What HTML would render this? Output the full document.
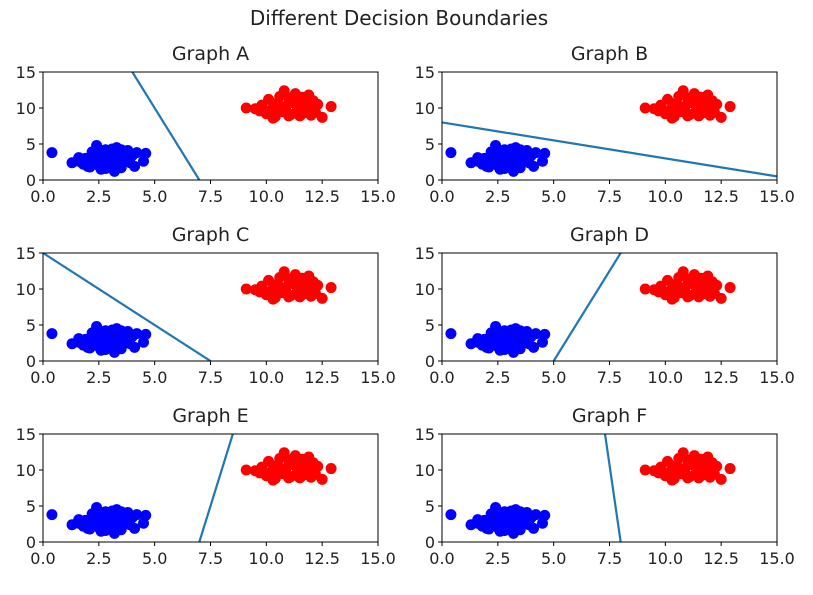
<!DOCTYPE html>
<html><head><meta charset="utf-8"><style>
body{margin:0;background:#fff;font-family:"Liberation Sans","DejaVu Sans",sans-serif;}
svg text{font-family:"DejaVu Sans","Liberation Sans",sans-serif;fill:#222;}
</style></head><body>
<svg id="chart" width="813" height="590" viewBox="0 0 813 590" xmlns="http://www.w3.org/2000/svg">
<text x="399" y="25" text-anchor="middle" font-size="20">Different Decision Boundaries</text>
</svg>
<script>
const panelTitles = ["Graph A","Graph B","Graph C","Graph D","Graph E","Graph F"];
const boundaries = [[[4,15],[7,0]],[[0,8],[15,0.5]],[[0,15],[7.5,0]],[[5,0],[8,15]],[[7,0],[8.5,15]],[[7.3,15],[8,0]]];
const xTicks = [0,2.5,5,7.5,10,12.5,15];
const xTickLabels = ["0.0","2.5","5.0","7.5","10.0","12.5","15.0"];
const yTicks = [0,5,10,15];
const blueX = [0.4,1.3,1.6,1.8,1.9,2,2.1,2.2,2.3,2.4,2.5,2.6,2.7,2.8,2.9,3,3.1,3.2,3.2,3.3,3.4,3.5,3.5,3.6,3.7,3.8,3.9,4,4.1,4.2,4.5,4.6,2.2,2.8,3.3,1.6,2.0,2.6,3.0,3.6];
const blueY = [3.8,2.4,2.6,2.2,3,2.7,1.8,3.3,2.5,4.8,2,3.5,2.9,1.6,3.8,2.4,4.3,1.2,3.1,2.2,3.6,1.7,4.2,2.8,3.2,4.1,2.4,3.4,1.9,3.8,2.6,3.7,3.9,4.2,4.5,3.1,1.9,1.5,3.3,3.9];
const redX = [9.1,9.5,9.8,10,10.1,10.3,10.4,10.5,10.7,10.8,10.9,11,11.1,11.2,11.3,11.4,11.5,11.6,11.7,11.8,11.9,12,12.1,12.2,12.5,12.9,10.2,10.6,11.3,11.8,12.3,9.7,10.3,11.0,11.6,12.0];
const redY = [10,9.9,10.4,9.2,11.2,10,8.8,10.7,9.5,12.4,10.3,11.4,9.1,10.8,12,9.8,8.9,11.5,10.3,9.4,11.8,10,11,9.4,8.7,10.2,9.7,11.6,10.6,10.9,10.5,9.6,8.6,8.9,9.2,9.0];

const svg = document.getElementById('chart');
const NS = 'http://www.w3.org/2000/svg';
const lefts = [43,442], tops = [72,253,434], W = 335, H = 108;
function mk(tag, attrs, parent){const e=document.createElementNS(NS,tag);for(const k in attrs)e.setAttribute(k,attrs[k]);parent.appendChild(e);return e;}
panelTitles.forEach((t,i)=>{
  const L = lefts[i%2], T = tops[Math.floor(i/2)];
  const sx = v => L + v/15*W, sy = v => T + H - v/15*H;
  const g = mk('g',{},svg);
  
  
  const tt = mk('text',{x:L+W/2,y:T-12,'text-anchor':'middle','font-size':'19'},g);
  tt.textContent = t;
  
  
  const clip = 'clip'+i;
  const cp = mk('clipPath',{id:clip},g); mk('rect',{x:L,y:T,width:W,height:H},cp);
  const pts = mk('g',{'clip-path':'url(#'+clip+')'},g);
  blueX.forEach((x,j)=>{const c=mk('circle',{cx:sx(x),cy:sy(blueY[j]),r:5.5,fill:'#0000ff'},pts);
    
    });
  redX.forEach((x,j)=>{const c=mk('circle',{cx:sx(x),cy:sy(redY[j]),r:5.5,fill:'#ff0000'},pts);
    
    });
  const b = boundaries[i];
  const ln = mk('line',{x1:sx(b[0][0]),y1:sy(b[0][1]),x2:sx(b[1][0]),y2:sy(b[1][1]),stroke:'#1f77b4','stroke-width':2.2},pts);
  
  
  const fr = mk('rect',{x:L,y:T,width:W,height:H,fill:'none',stroke:'#000','stroke-width':1},g);
  
  
  xTicks.forEach((v,j)=>{mk('line',{x1:sx(v),x2:sx(v),y1:T+H,y2:T+H+4,stroke:'#000'},g);
    const tx = mk('text',{x:sx(v),y:T+H+22,'text-anchor':'middle','font-size':'16'},g);
    tx.textContent = xTickLabels[j];
    
    });
  yTicks.forEach(v=>{mk('line',{x1:L-4,x2:L,y1:sy(v),y2:sy(v),stroke:'#000'},g);
    const ty = mk('text',{x:L-7,y:sy(v)+6,'text-anchor':'end','font-size':'16'},g);
    ty.textContent = v;
    
    });
});
</script>
</body></html>
